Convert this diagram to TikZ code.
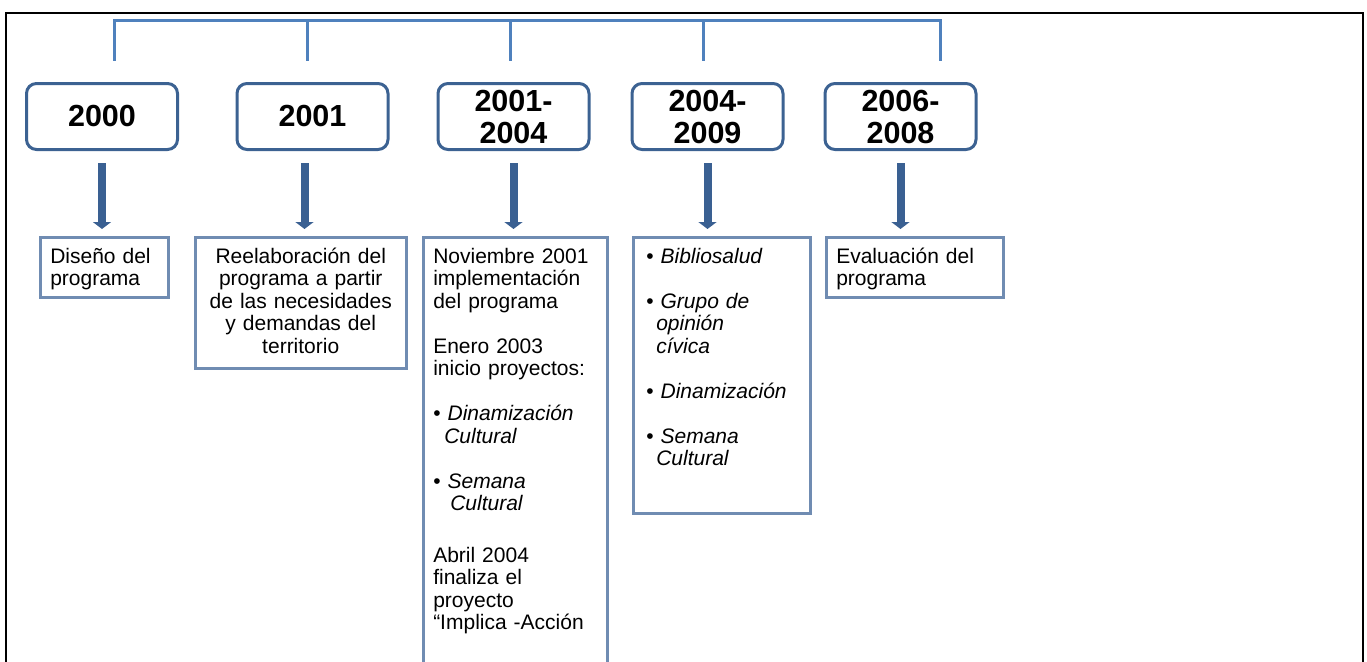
\documentclass[tikz,border=0pt]{standalone}
\usepackage{fontspec}
\setmainfont{Liberation Sans}
\usetikzlibrary{arrows.meta}

\definecolor{linea}{RGB}{79,129,189}
\definecolor{bordeanio}{RGB}{60,98,146}
\definecolor{flecha}{RGB}{58,96,146}
\definecolor{bordecaja}{RGB}{112,140,178}

\newcommand{\bul}[1]{\textbullet\ \textit{#1}}

\tikzset{
	anio/.style={draw=bordeanio, line width=3pt, rounded corners=10pt, minimum width=151pt, minimum height=66pt, inner sep=0pt, align=center, font=\fontsize{30.5}{32}\selectfont\bfseries},
	caja/.style={draw=bordecaja, line width=2.5pt, anchor=north west, align=left, inner xsep=10pt, inner ysep=0pt, text height=26pt, font=\fontsize{21}{22.5}\selectfont},
	flechita/.style={draw=flecha, line width=8pt, -{Triangle[width=18pt,length=7pt]}, shorten <=12pt, shorten >=7pt},
	llave/.style={draw=linea, line width=3pt}
}

\begin{document}
\begin{tikzpicture}[x=1pt, y=-1pt]
	\useasboundingbox (0, 0) rectangle (1367, 661);
	\draw[line width=2.5pt] (6, 700) -- (6, 13) -- (1363, 13) -- (1363, 700);

	% years
	\node[anio] (yr1) at (102, 116.5) {2000};
	\node[anio] (yr2) at (312.5, 116.5) {2001};
	\node[anio] (yr3) at (513.5, 116.5) {2001-\\2004};
	\node[anio] (yr4) at (707.5, 116.5) {2004-\\2009};
	\node[anio] (yr5) at (900.5, 116.5) {2006-\\2008};

	% bracket on top
	\coordinate (top1) at (114, 21);
	\coordinate (top2) at (307, 21);
	\coordinate (top3) at (510, 21);
	\coordinate (top4) at (703, 21);
	\coordinate (top5) at (940, 21);
	\coordinate (pie1) at (114, 61);
	\coordinate (pie2) at (307, 61);
	\coordinate (pie3) at (510, 61);
	\coordinate (pie4) at (703, 61);
	\coordinate (pie5) at (940, 61);
	\draw[llave] (pie1) -- (top1) -- (top5) -- (pie5);
	\draw[llave] (top2) -- (pie2);
	\draw[llave] (top3) -- (pie3);
	\draw[llave] (top4) -- (pie4);

	% boxes below
	\node[caja, text width=108pt, text depth=34pt] (t1) at (39, 236) {Diseño del\\programa};
	\node[caja, text width=191pt, text depth=105pt, align=center] (t2) at (194, 236) {Reelaboración del\\programa a partir\\de las necesidades\\y demandas del\\territorio};
	\node[caja, text width=164pt, text depth=500pt] (t3) at (422, 236) {Noviembre 2001\\implementación\\del programa\\[22.5pt]
		Enero 2003\\inicio proyectos:\\[22.5pt]
		\bul{Dinamización}\\\hspace*{11pt}\textit{Cultural}\\[22.5pt]
		\bul{Semana}\\\hspace*{17pt}\textit{Cultural}\\[29pt]
		Abril 2004\\finaliza el\\proyecto\\“Implica -Acción};
	\node[caja, text width=151pt, text depth=250pt, inner xsep=13pt] (t4) at (632, 236) {\bul{Bibliosalud}\\[22.5pt]
		\bul{Grupo de}\\\hspace*{10pt}\textit{opinión}\\\hspace*{10pt}\textit{cívica}\\[22.5pt]
		\bul{Dinamización}\\[22.5pt]
		\bul{Semana}\\\hspace*{10pt}\textit{Cultural}};
	\node[caja, text width=157pt, text depth=34pt] (t5) at (825, 236) {Evaluación del\\programa};

	% arrows
	\draw[flechita] (yr1.south) -- (yr1.south |- t1.north);
	\draw[flechita] ([xshift=-8pt]yr2.south) -- ([xshift=-8pt]yr2.south |- t2.north);
	\draw[flechita] (yr3.south) -- (yr3.south |- t3.north);
	\draw[flechita] (yr4.south) -- (yr4.south |- t4.north);
	\draw[flechita] (yr5.south) -- (yr5.south |- t5.north);
\end{tikzpicture}
\end{document}
